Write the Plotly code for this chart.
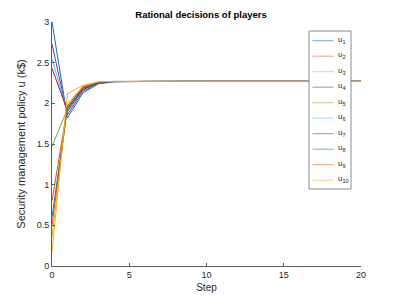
import plotly.graph_objects as go

steps = list(range(0, 21))

u1 = [3.00, 1.82, 2.13, 2.240, 2.265, 2.27, 2.27, 2.27, 2.27, 2.27, 2.27, 2.27, 2.27, 2.27, 2.27, 2.27, 2.27, 2.27, 2.27, 2.27, 2.27]
u2 = [0.80, 1.95, 2.19, 2.255, 2.268, 2.27, 2.27, 2.27, 2.27, 2.27, 2.27, 2.27, 2.27, 2.27, 2.27, 2.27, 2.27, 2.27, 2.27, 2.27, 2.27]
u3 = [0.35, 2.00, 2.21, 2.260, 2.269, 2.27, 2.27, 2.27, 2.27, 2.27, 2.27, 2.27, 2.27, 2.27, 2.27, 2.27, 2.27, 2.27, 2.27, 2.27, 2.27]
u4 = [2.73, 1.86, 2.15, 2.245, 2.266, 2.27, 2.27, 2.27, 2.27, 2.27, 2.27, 2.27, 2.27, 2.27, 2.27, 2.27, 2.27, 2.27, 2.27, 2.27, 2.27]
u5 = [1.47, 1.93, 2.18, 2.255, 2.268, 2.27, 2.27, 2.27, 2.27, 2.27, 2.27, 2.27, 2.27, 2.27, 2.27, 2.27, 2.27, 2.27, 2.27, 2.27, 2.27]
u6 = [2.55, 1.89, 2.16, 2.250, 2.267, 2.27, 2.27, 2.27, 2.27, 2.27, 2.27, 2.27, 2.27, 2.27, 2.27, 2.27, 2.27, 2.27, 2.27, 2.27, 2.27]
u7 = [2.43, 1.91, 2.17, 2.250, 2.268, 2.27, 2.27, 2.27, 2.27, 2.27, 2.27, 2.27, 2.27, 2.27, 2.27, 2.27, 2.27, 2.27, 2.27, 2.27, 2.27]
u8 = [0.60, 1.94, 2.185, 2.255, 2.268, 2.27, 2.27, 2.27, 2.27, 2.27, 2.27, 2.27, 2.27, 2.27, 2.27, 2.27, 2.27, 2.27, 2.27, 2.27, 2.27]
u9 = [0.50, 1.97, 2.20, 2.260, 2.269, 2.27, 2.27, 2.27, 2.27, 2.27, 2.27, 2.27, 2.27, 2.27, 2.27, 2.27, 2.27, 2.27, 2.27, 2.27, 2.27]
u10 = [0.17, 2.12, 2.22, 2.265, 2.270, 2.27, 2.27, 2.27, 2.27, 2.27, 2.27, 2.27, 2.27, 2.27, 2.27, 2.27, 2.27, 2.27, 2.27, 2.27, 2.27]

series = [u1, u2, u3, u4, u5, u6, u7, u8, u9, u10]
names = ["u<sub>%d</sub>" % i for i in range(1, 11)]
colors = ["#0072BD", "#D95319", "#EDB120", "#7E2F8E", "#77AC30",
          "#4DBEEE", "#A2142F", "#0072BD", "#D95319", "#EDB120"]

x_ticks = [0, 5, 10, 15, 20]
y_ticks = [0, 0.5, 1, 1.5, 2, 2.5, 3]
y_tick_labels = ["0", "0.5", "1", "1.5", "2", "2.5", "3"]

FONT = "Liberation Sans, Arial, Helvetica, sans-serif"

W, H = 399, 299
ML, MR, MT, MB = 52, 38, 22, 33
PW, PH = W - ML - MR, H - MT - MB


def px_x(p):
    return (p - ML) / PW


def px_y(p):
    return (H - MB - p) / PH


fig = go.Figure()
for vals, name, col in zip(series, names, colors):
    fig.add_trace(go.Scatter(x=steps, y=vals, mode="lines", name=name,
                             line=dict(color=col, width=1), showlegend=False))

axis_common = dict(
    showgrid=False, zeroline=False, showline=True, linecolor="#5a5a5a",
    linewidth=1, ticks="inside", ticklen=3, tickcolor="#5a5a5a",
    tickfont=dict(family=FONT, size=9, color="#262626"), mirror=False,
    automargin=False,
)

# legend box drawn in the MATLAB style (compact entry spacing)
box_l, box_r, box_t, box_b = 309, 351, 31, 189
entry_top, entry_gap = 40.7, 15.5
shapes = [dict(type="rect", xref="paper", yref="paper",
               x0=px_x(box_l), x1=px_x(box_r), y0=px_y(box_b), y1=px_y(box_t),
               fillcolor="white", line=dict(color="#8a8a8a", width=1), layer="above")]
annotations = []
for i, (name, col) in enumerate(zip(names, colors)):
    yc = entry_top + entry_gap * i
    shapes.append(dict(type="line", xref="paper", yref="paper",
                       x0=px_x(312.5), x1=px_x(333.5), y0=px_y(yc), y1=px_y(yc),
                       line=dict(color=col, width=1), opacity=0.55, layer="above"))
    annotations.append(dict(text=name, xref="paper", yref="paper",
                            x=px_x(335.5), y=px_y(yc - 1), xanchor="left", yanchor="middle",
                            showarrow=False, font=dict(family=FONT, size=8, color="#262626")))

fig.update_layout(
    width=W, height=H,
    margin=dict(l=ML, r=MR, t=MT, b=MB),
    paper_bgcolor="white", plot_bgcolor="white",
    font=dict(family=FONT, color="#262626"),
    title=dict(text="<b>Rational decisions of players</b>", x=201 / W, xanchor="center",
               y=1 - 15 / H, yanchor="middle", font=dict(family=FONT, size=9.5, color="#000000")),
    xaxis=dict(range=[0, 20], tickvals=x_ticks, title=dict(text="Step", standoff=5,
               font=dict(family=FONT, size=10, color="#262626")), **axis_common),
    yaxis=dict(range=[0, 3], tickvals=y_ticks, ticktext=y_tick_labels,
               title=dict(text="Security management policy u (k$)", standoff=8,
                          font=dict(family=FONT, size=11, color="#262626")), **axis_common),
    shapes=shapes,
    annotations=annotations,
    showlegend=False,
)

fig.write_html("out.html", config={"displayModeBar": False},
               post_script="document.body.style.margin='0';document.body.style.overflow='hidden';")
